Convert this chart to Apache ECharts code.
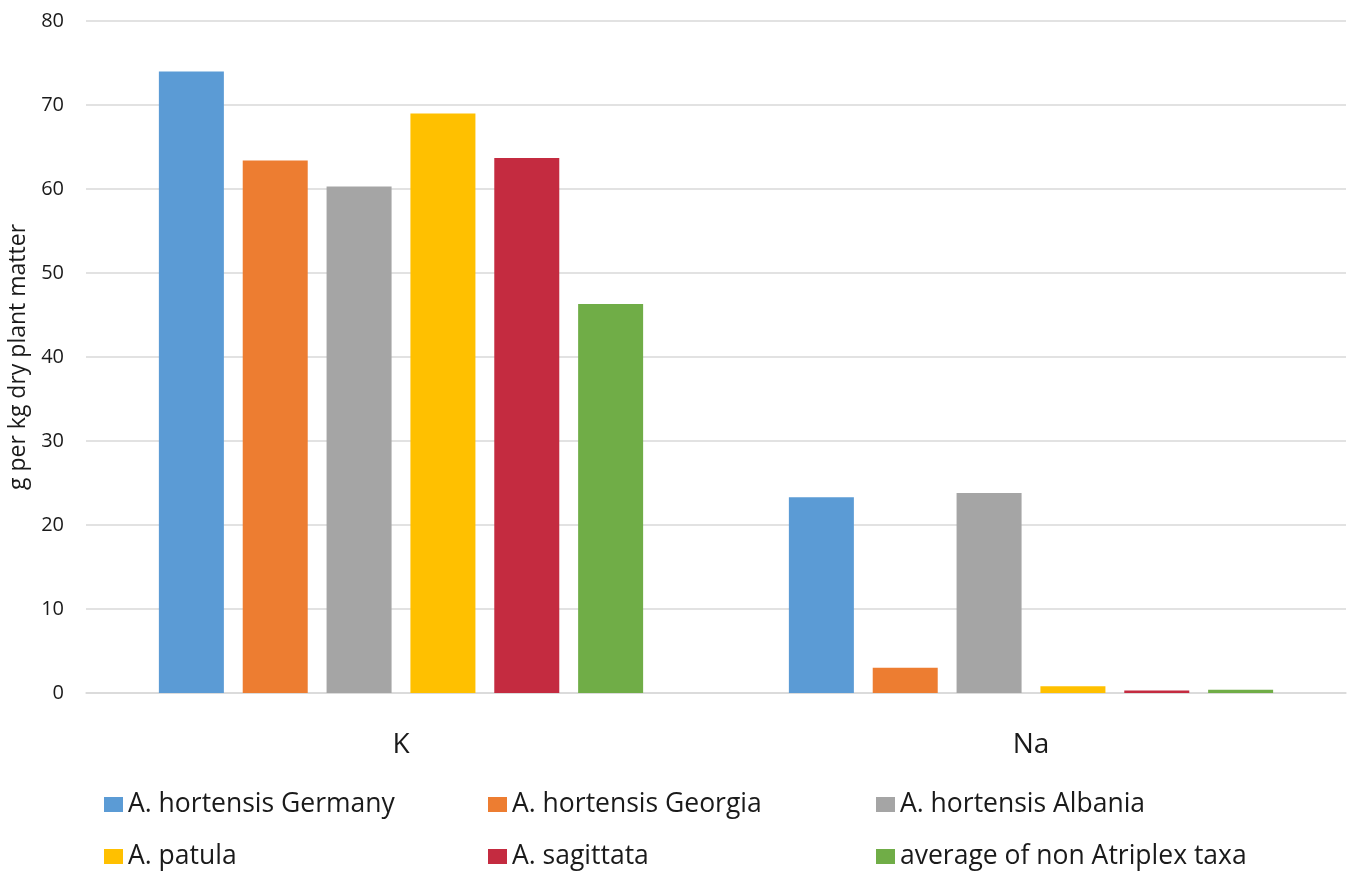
<!DOCTYPE html>
<html>
<head>
<meta charset="utf-8">
<script src="https://cdn.jsdelivr.net/npm/echarts@6/dist/echarts.min.js"></script>
<style>
html,body{margin:0;padding:0;background:#fff;}
#chart{width:1354px;height:871px;}
</style>
</head>
<body>
<div id="chart"></div>
<script>
var categories = ['K', 'Na'];
var seriesNames = ['A. hortensis Germany', 'A. hortensis Georgia', 'A. hortensis Albania', 'A. patula', 'A. sagittata', 'average of non Atriplex taxa'];
var germany = [74.0, 23.3];
var georgia = [63.4, 3.0];
var albania = [60.3, 23.8];
var patula = [69.0, 0.8];
var sagittata = [63.7, 0.3];
var nonAtriplex = [46.3, 0.4];
var yTicks = [0, 10, 20, 30, 40, 50, 60, 70, 80];
var yTitle = 'g per kg dry plant matter';

var colors = ['#5B9BD5', '#ED7D31', '#A5A5A5', '#FFC000', '#C42B40', '#70AD47'];
var values = [germany, georgia, albania, patula, sagittata, nonAtriplex];
var font = '"Open Sans", "Noto Sans", sans-serif';

var legendPos = [
  {left: 104, top: 791}, {left: 488, top: 791}, {left: 876, top: 791},
  {left: 104, top: 843}, {left: 488, top: 843}, {left: 876, top: 843}
];

var chart = echarts.init(document.getElementById('chart'));
chart.setOption({
  animation: false,
  backgroundColor: '#fff',
  color: colors,
  textStyle: {fontFamily: font},
  grid: {left: 86, right: 8, top: 21, bottom: 178, containLabel: false, outerBoundsMode: 'none'},
  legend: seriesNames.map(function (n, i) {
    return {
      data: [n],
      left: legendPos[i].left,
      top: legendPos[i].top,
      itemWidth: 19,
      itemHeight: 15,
      icon: 'rect',
      selectedMode: false,
      padding: 0,
      textStyle: {fontFamily: font, fontSize: 26.5, color: '#1a1a1a'}
    };
  }),
  xAxis: {
    type: 'category',
    data: categories,
    axisTick: {show: false},
    axisLine: {lineStyle: {color: '#D9D9D9', width: 1.5}},
    axisLabel: {fontFamily: font, fontSize: 28, color: '#1a1a1a', margin: 38}
  },
  yAxis: {
    type: 'value',
    min: yTicks[0],
    max: yTicks[yTicks.length - 1],
    interval: 10,
    name: yTitle,
    nameLocation: 'middle',
    nameRotate: 90,
    nameGap: 56,
    nameTextStyle: {fontFamily: font, fontSize: 23, color: '#1a1a1a'},
    axisLine: {show: false},
    axisTick: {show: false},
    axisLabel: {fontFamily: font, fontSize: 20, color: '#1a1a1a', margin: 22},
    splitLine: {lineStyle: {color: '#D9D9D9', width: 1.5}}
  },
  series: seriesNames.map(function (n, i) {
    return {
      name: n,
      type: 'bar',
      data: values[i],
      barWidth: 65,
      barGap: '29%',
      itemStyle: {color: colors[i]}
    };
  })
});
</script>
</body>
</html>
